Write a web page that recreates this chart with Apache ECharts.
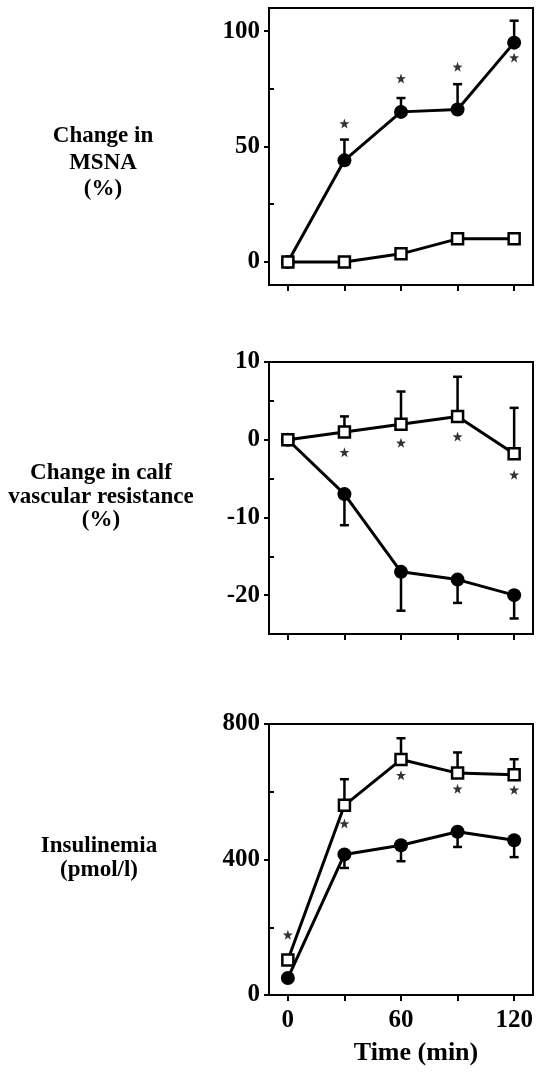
<!DOCTYPE html>
<html>
<head>
<meta charset="utf-8">
<script src="https://cdn.jsdelivr.net/npm/echarts@6/dist/echarts.min.js"></script>
<style>
  html, body { margin: 0; padding: 0; background: #fff; }
  #chart { width: 538px; height: 1076px; }
</style>
</head>
<body>
<div id="chart"></div>
<script>
// time points (min)
var times = [0, 30, 60, 90, 120];

// panel 1: change in MSNA (%)
var msnaFilled = [0, 44, 65, 66, 95];
var msnaFilledErr = [null, 53, 71, 77, 104.5];
var msnaOpen = [0, 0, 3.5, 10, 10];
var msnaStarX = [30, 60, 90, 120];
var msnaStarY = [60, 79.5, 84.5, 88.5];

// panel 2: change in calf vascular resistance (%)
var cvrOpen = [0, 1, 2, 3, -1.8];
var cvrOpenErr = [null, 3, 6.2, 8.1, 4.1];
var cvrFilled = [0, -7, -17, -18, -20];
var cvrFilledErr = [null, -11, -22, -21, -23];
var cvrStarX = [30, 60, 90, 120];
var cvrStarY = [-1.6, -0.4, 0.4, -4.5];

// panel 3: insulinemia (pmol/l)
var insOpen = [103, 560, 695, 655, 650];
var insOpenErr = [null, 637, 758, 716, 696];
var insFilled = [50, 415, 442, 482, 457];
var insFilledErr = [null, 375, 395, 437, 407];
var insStarX = [0, 30, 60, 90, 120];
var insStarY = [178, 506, 649, 609, 606];

// axis ticks
var yMajor = [[0, 50, 100], [-20, -10, 0, 10], [0, 400, 800]];
var yMinor = [[25, 75], [-15, -5, 5], [200, 600]];
var yRange = [[-10, 110], [-25, 10], [0, 800]];
var xLabels = [0, 60, 120];

var FONT = '"Liberation Serif", "Times New Roman", serif';
var starPath = 'path://M0,-10L2.35,-3.24L9.51,-3.09L3.8,1.24L5.88,8.09L0,4L-5.88,8.09L-3.8,1.24L-9.51,-3.09L-2.35,-3.24Z';

var myChart = echarts.init(document.getElementById('chart'));

var grids = [
    {left: 269, width: 264, top: 8, height: 277},
    {left: 269, width: 264, top: 362, height: 272},
    {left: 269, width: 264, top: 724, height: 271}
];
grids.forEach(function (g) {
    g.show = true;
    g.borderColor = '#000';
    g.borderWidth = 2;
    g.backgroundColor = 'transparent';
});

var xAxes = [], yAxes = [], series = [];
for (var i = 0; i < 3; i++) {
    xAxes.push({
        gridIndex: i, type: 'value', min: -10, max: 130, position: 'bottom',
        axisLine: {onZero: false, lineStyle: {color: '#000', width: 2}},
        axisTick: {customValues: times, length: 6, lineStyle: {color: '#000', width: 2}},
        axisLabel: {show: i === 2, customValues: xLabels, margin: 13,
            color: '#000', fontFamily: FONT, fontWeight: 'bold', fontSize: 25},
        splitLine: {show: false}
    });
}
for (var i = 0; i < 3; i++) {
    yAxes.push({
        gridIndex: i, type: 'value', min: yRange[i][0], max: yRange[i][1], position: 'left',
        axisLine: {show: true, onZero: false, lineStyle: {color: '#000', width: 2}},
        axisTick: {customValues: yMajor[i], length: 5, lineStyle: {color: '#000', width: 2}},
        axisLabel: {customValues: yMajor[i], margin: 9,
            color: '#000', fontFamily: FONT, fontWeight: 'bold', fontSize: 25},
        splitLine: {show: false}
    });
}
for (var i = 0; i < 3; i++) {
    // minor ticks inside the box
    yAxes.push({
        gridIndex: i, type: 'value', min: yRange[i][0], max: yRange[i][1], position: 'left',
        axisLine: {show: false, onZero: false},
        axisTick: {inside: true, customValues: yMinor[i], length: 5, lineStyle: {color: '#000', width: 2}},
        axisLabel: {show: false},
        splitLine: {show: false}
    });
}

function pairs(vals) {
    return times.map(function (t, k) { return [t, vals[k]]; });
}
function errData(vals, ends) {
    var out = [];
    times.forEach(function (t, k) {
        if (ends[k] != null) out.push([t, vals[k], ends[k]]);
    });
    return out;
}
function starData(xs, ys) {
    return xs.map(function (x, k) { return [x, ys[k]]; });
}

function errorSeries(idx, data) {
    return {
        type: 'custom', xAxisIndex: idx, yAxisIndex: idx, z: 1,
        renderItem: function (params, api) {
            var p0 = api.coord([api.value(0), api.value(1)]);
            var p1 = api.coord([api.value(0), api.value(2)]);
            var style = {stroke: '#000', lineWidth: 2.5};
            return {
                type: 'group',
                children: [
                    {type: 'line', shape: {x1: p0[0], y1: p0[1], x2: p1[0], y2: p1[1]}, style: style},
                    {type: 'line', shape: {x1: p1[0] - 4.5, y1: p1[1], x2: p1[0] + 4.5, y2: p1[1]}, style: style}
                ]
            };
        },
        data: data
    };
}
function filledSeries(idx, vals) {
    return {
        type: 'line', xAxisIndex: idx, yAxisIndex: idx, z: 3,
        symbol: 'circle', symbolSize: 14, showAllSymbol: true,
        lineStyle: {color: '#000', width: 3},
        itemStyle: {color: '#000', borderColor: '#000', borderWidth: 0},
        data: pairs(vals)
    };
}
function openSeries(idx, vals) {
    return {
        type: 'line', xAxisIndex: idx, yAxisIndex: idx, z: 4,
        symbol: 'rect', symbolSize: 11, showAllSymbol: true,
        lineStyle: {color: '#000', width: 3},
        itemStyle: {color: '#fff', borderColor: '#000', borderWidth: 2.5},
        data: pairs(vals)
    };
}
function starSeries(idx, xs, ys) {
    return {
        type: 'scatter', xAxisIndex: idx, yAxisIndex: idx, z: 5,
        symbol: starPath, symbolSize: 10,
        itemStyle: {color: '#000'},
        data: starData(xs, ys)
    };
}

series.push(errorSeries(0, errData(msnaFilled, msnaFilledErr)));
series.push(filledSeries(0, msnaFilled));
series.push(openSeries(0, msnaOpen));
series.push(starSeries(0, msnaStarX, msnaStarY));

series.push(errorSeries(1, errData(cvrOpen, cvrOpenErr)));
series.push(errorSeries(1, errData(cvrFilled, cvrFilledErr)));
series.push(filledSeries(1, cvrFilled));
series.push(openSeries(1, cvrOpen));
series.push(starSeries(1, cvrStarX, cvrStarY));

series.push(errorSeries(2, errData(insOpen, insOpenErr)));
series.push(errorSeries(2, errData(insFilled, insFilledErr)));
series.push(filledSeries(2, insFilled));
series.push(openSeries(2, insOpen));
series.push(starSeries(2, insStarX, insStarY));

function leftText(text, x, y, lh) {
    return {
        type: 'text', x: x, y: y,
        style: {
            text: text, textAlign: 'center', textVerticalAlign: 'middle',
            font: 'bold 23px ' + FONT, lineHeight: lh, fill: '#000'
        }
    };
}

var option = {
    animation: false,
    backgroundColor: '#fff',
    grid: grids,
    xAxis: xAxes,
    yAxis: yAxes,
    series: series,
    graphic: [
        leftText('Change in\nMSNA\n(%)', 103, 163, 26.5),
        leftText('Change in calf\nvascular resistance\n(%)', 101, 497, 23.5),
        leftText('Insulinemia\n(pmol/l)', 99, 858, 24),
        {
            type: 'text', x: 416, y: 1053,
            style: {
                text: 'Time (min)', textAlign: 'center', textVerticalAlign: 'middle',
                font: 'bold 26px ' + FONT, fill: '#000'
            }
        }
    ]
};
myChart.setOption(option);
window.onresize = myChart.resize;
</script>
</body>
</html>
